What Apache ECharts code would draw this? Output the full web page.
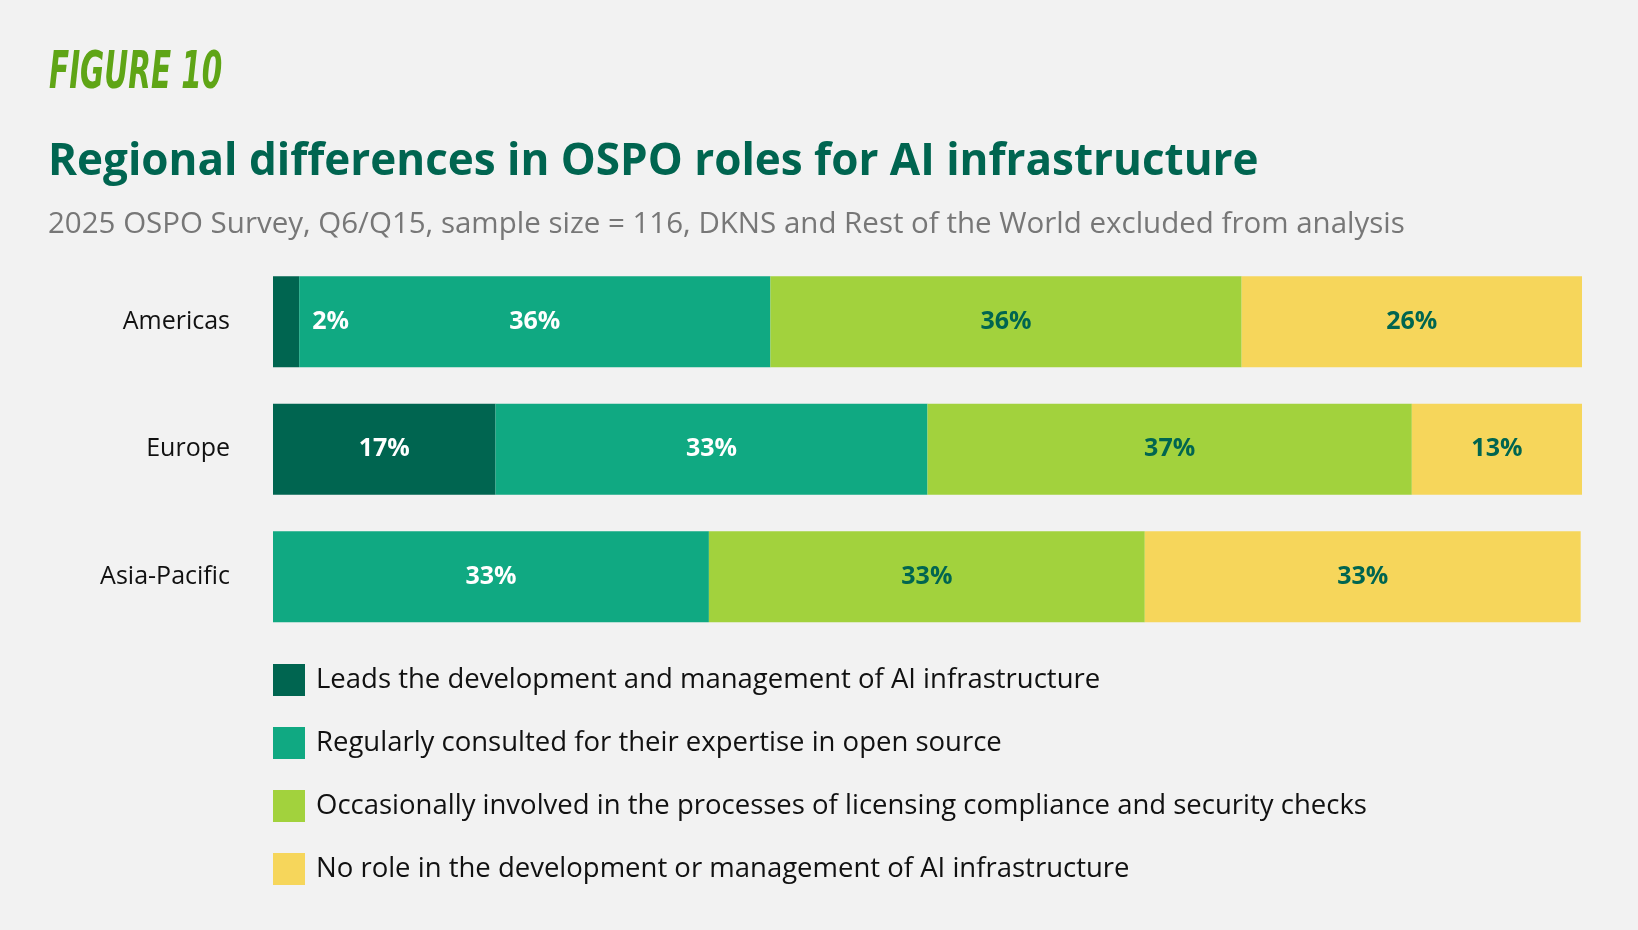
<!DOCTYPE html>
<html>
<head>
<meta charset="utf-8">
<script src="https://cdn.jsdelivr.net/npm/echarts@6/dist/echarts.min.js"></script>
<style>
  html, body { margin: 0; padding: 0; background: #f2f2f2; }
  #chart { width: 1638px; height: 930px; }
</style>
</head>
<body>
<div id="chart"></div>
<script>
// 数据
var regions = ["Americas", "Europe", "Asia-Pacific"];
var roles = [
  "Leads the development and management of AI infrastructure",
  "Regularly consulted for their expertise in open source",
  "Occasionally involved in the processes of licensing compliance and security checks",
  "No role in the development or management of AI infrastructure"
];
var leads = [2, 17, 0];
var consulted = [36, 33, 33.3];
var occasional = [36, 37, 33.3];
var noRole = [26, 13, 33.3];
var colors = ["#006550", "#10a982", "#a2d23d", "#f6d65b"];
var labelColors = ["#ffffff", "#ffffff", "#006550", "#006550"];

var font = "'Open Sans', 'Noto Sans', sans-serif";

function makeSeries(name, values, idx) {
  return {
    name: name,
    type: "bar",
    stack: "total",
    barWidth: 91,
    itemStyle: { color: colors[idx] },
    label: {
      show: true,
      position: "inside",
      color: labelColors[idx],
      fontFamily: font,
      fontWeight: "bold",
      fontSize: 25,
      formatter: function (p) {
        return p.value > 0 ? Math.round(p.value) + "%" : "";
      }
    },
    emphasis: { disabled: true },
    data: values.map(function (v) {
      // 2% 太窄，标签放在右侧
      if (idx === 0 && v > 0 && v < 5) {
        return { value: v, label: { position: "right", distance: 13 } };
      }
      return v;
    })
  };
}

var chart = echarts.init(document.getElementById("chart"));
var option = {
  backgroundColor: "#f2f2f2",
  animation: false,
  graphic: [
    {
      type: "text",
      x: 49,
      y: 74,
      scaleX: 0.63,
      style: {
        text: "FIGURE 10",
        fontFamily: "'Liberation Sans Narrow', 'DejaVu Sans Condensed', sans-serif",
        fontWeight: "bold",
        fontStyle: "italic",
        fontSize: 52,
        fill: "#5fa516",
        textVerticalAlign: "middle"
      }
    },
    {
      type: "text",
      x: 48,
      y: 162,
      style: {
        text: "Regional differences in OSPO roles for AI infrastructure",
        fontFamily: font,
        fontWeight: "bold",
        fontSize: 44,
        fill: "#006550",
        textVerticalAlign: "middle"
      }
    },
    {
      type: "text",
      x: 48,
      y: 225,
      style: {
        text: "2025 OSPO Survey, Q6/Q15, sample size = 116, DKNS and Rest of the World excluded from analysis",
        fontFamily: font,
        fontSize: 29.5,
        fill: "#777777",
        textVerticalAlign: "middle"
      }
    }
  ],
  legend: {
    orient: "vertical",
    left: 268,
    top: 659,
    icon: "rect",
    itemWidth: 32,
    itemHeight: 32,
    itemGap: 31,
    selectedMode: false,
    textStyle: {
      fontFamily: font,
      fontSize: 27.5,
      lineHeight: 32,
      color: "#111111",
      padding: [0, 0, 0, 6]
    },
    data: roles
  },
  grid: { left: 273, right: 56, top: 258, height: 382.5 },
  xAxis: { type: "value", min: 0, max: 100, show: false },
  yAxis: {
    type: "category",
    inverse: true,
    data: regions,
    axisLine: { show: false },
    axisTick: { show: false },
    axisLabel: { margin: 43, fontFamily: font, fontSize: 25, color: "#111111" }
  },
  series: [
    makeSeries(roles[0], leads, 0),
    makeSeries(roles[1], consulted, 1),
    makeSeries(roles[2], occasional, 2),
    makeSeries(roles[3], noRole, 3)
  ]
};
chart.setOption(option);
</script>
</body>
</html>
